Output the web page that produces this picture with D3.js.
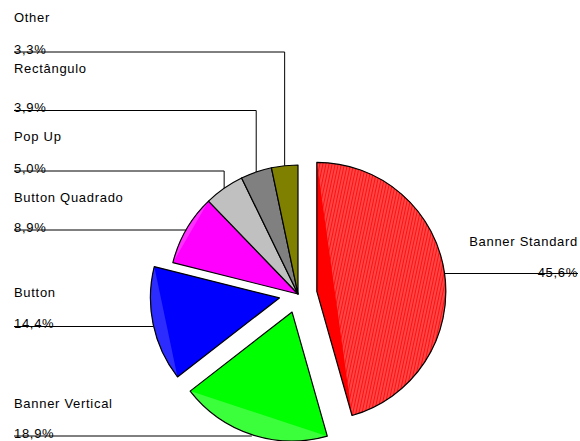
<!DOCTYPE html>
<html><head><meta charset="utf-8">
<script src="https://cdn.jsdelivr.net/npm/d3@7"></script>
<style>html,body{margin:0;padding:0;background:#fff;}</style>
</head><body>
<svg id="c" width="580" height="441"></svg>
<script>
const categories = ["Banner Standard","Banner Vertical","Button","Button Quadrado","Pop Up","Rectângulo","Other"];
const values = [45.6, 18.9, 14.4, 8.9, 5.0, 3.9, 3.3];
const percentLabels = ["45,6%","18,9%","14,4%","8,9%","5,0%","3,9%","3,3%"];
const colors = ["#ff0000","#00ff00","#0000ff","#ff00ff","#c0c0c0","#808080","#808000"];
const edgeColors = ["url(#redpat)","#3cff3c","#2c2cff","#ff30ff",null,null,null];
const exploded = [true, true, true, false, false, false, false];
// label layout: name baseline, leader line y, side
const nameY = [246, 408, 297, 202, 141, 73, 21.5];
const lineY = [273.5, 436, 326.5, 230, 171, 110.5, 52];
const side = ["right","left","left","left","left","left","left"];

const W = 580, H = 441, cx = 298, cy = 294, R = 129, EX = 19;
const svg = d3.select("#c");
const defs = svg.append("defs");
const pat = defs.append("pattern").attr("id","redpat").attr("patternUnits","userSpaceOnUse")
  .attr("width",3).attr("height",4).attr("patternTransform","rotate(12)");
pat.append("rect").attr("width",3).attr("height",4).attr("fill","#ff4646");
pat.append("rect").attr("width",1).attr("height",4).attr("fill","#ff1010");

const pie = d3.pie().sort(null).value(d => d)(values);
const arc = d3.arc().innerRadius(0).outerRadius(R);
const g = svg.append("g").attr("transform",`translate(${cx},${cy})`);

function segment(a){
  const p = d3.path();
  p.moveTo(Math.sin(a.startAngle)*R, -Math.cos(a.startAngle)*R);
  p.arc(0,0,R,a.startAngle-Math.PI/2,a.endAngle-Math.PI/2,false);
  p.closePath();
  return p.toString();
}

pie.forEach((a,i) => {
  const m = (a.startAngle + a.endAngle)/2;
  const e = exploded[i] ? EX : 0;
  const sg = g.append("g").attr("transform",`translate(${Math.sin(m)*e},${-Math.cos(m)*e})`);
  sg.append("path").attr("d", arc(a)).attr("fill", colors[i]).attr("stroke","none");
  if (edgeColors[i]) sg.append("path").attr("d", segment(a)).attr("fill", edgeColors[i]).attr("stroke","none");
  sg.append("path").attr("d", arc(a)).attr("fill","none")
    .attr("stroke","#000").attr("stroke-width",1.2).attr("stroke-linejoin","round");
});

// leader lines + labels
pie.forEach((a,i) => {
  const m = (a.startAngle + a.endAngle)/2;
  const e = exploded[i] ? EX : 0;
  const px = cx + Math.sin(m)*(R+e), py = cy - Math.cos(m)*(R+e);
  const ly = lineY[i];
  let pts;
  if (side[i]==="left") {
    pts = Math.abs(py-ly) < 3 ? [[14,ly],[px,ly]] : [[14,ly],[px,ly],[px,py]];
  } else {
    pts = [[px,ly],[578,ly]];
  }
  svg.append("path").attr("d", d3.line()(pts)).attr("fill","none").attr("stroke","#000").attr("stroke-width",1);
  const tx = side[i]==="left" ? 14 : 578;
  const anchor = side[i]==="left" ? "start" : "end";
  svg.append("text").attr("x",tx).attr("y",nameY[i]).attr("text-anchor",anchor)
    .attr("font-family","Liberation Sans, Arial, sans-serif").attr("font-size",13)
    .attr("letter-spacing",0.7).attr("fill","#000").text(categories[i]);
  svg.append("text").attr("x",tx).attr("y",(side[i]==="left"? ly+1.5 : ly+3)).attr("text-anchor",anchor)
    .attr("font-family","Liberation Sans, Arial, sans-serif").attr("font-size",13)
    .attr("letter-spacing",0.7).attr("fill","#000").text(percentLabels[i]);
});
</script>
</body></html>
